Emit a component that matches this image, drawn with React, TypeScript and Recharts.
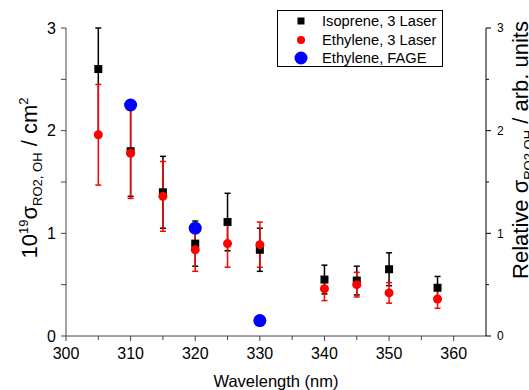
import React from 'react';
import { ScatterChart, Scatter, XAxis, YAxis, ErrorBar } from 'recharts';

const FONT = '"Liberation Sans", Arial, sans-serif';

// wavelengths (nm)
const laserWavelengths = [305, 310, 315, 320, 325, 330, 340, 345, 350, 357.5];
const isopreneValues = [2.6, 1.8, 1.4, 0.9, 1.11, 0.84, 0.55, 0.54, 0.65, 0.47];
// lower / upper error (the 305 nm bar runs off the top of the frame)
const isopreneErrLow = [0.65, 0.44, 0.35, 0.22, 0.28, 0.21, 0.14, 0.14, 0.16, 0.11];
const isopreneErrHigh = [0.4, 0.44, 0.35, 0.22, 0.28, 0.21, 0.14, 0.14, 0.16, 0.11];
const ethyleneValues = [1.96, 1.78, 1.36, 0.84, 0.9, 0.89, 0.46, 0.5, 0.42, 0.36];
const ethyleneErrors = [0.49, 0.44, 0.34, 0.21, 0.23, 0.22, 0.115, 0.12, 0.1, 0.09];
const fageWavelengths = [310, 320, 330];
const fageValues = [2.25, 1.05, 0.15];

const xTicks = [300, 305, 310, 315, 320, 325, 330, 335, 340, 345, 350, 355, 360];
const yTicks = [0, 0.5, 1, 1.5, 2, 2.5, 3];

const isoprene = laserWavelengths.map((x, i) => ({
  x,
  y: isopreneValues[i],
  err: [isopreneErrLow[i], isopreneErrHigh[i]],
}));
const ethylene = laserWavelengths.map((x, i) => ({ x, y: ethyleneValues[i], err: ethyleneErrors[i] }));
const fage = fageWavelengths.map((x, i) => ({ x, y: fageValues[i] }));

const AXIS_GREY = '#444';

function XTick(props: any) {
  const { x, y, payload } = props;
  const major = payload.value % 10 === 0;
  return (
    <g>
      <line x1={x} x2={x} y1={y} y2={y + (major ? 5 : 4)} stroke={AXIS_GREY} />
      {major && (
        <text x={x} y={y + 23} textAnchor="middle" fontSize={16} fill="#000" fontFamily={FONT}>
          {payload.value}
        </text>
      )}
    </g>
  );
}

function LeftTick(props: any) {
  const { x, y, payload } = props;
  const major = Number.isInteger(payload.value);
  return (
    <g>
      <line x1={x} x2={x - 5} y1={y} y2={y} stroke={AXIS_GREY} />
      {major && (
        <text x={x - 10} y={y} dy="0.35em" textAnchor="end" fontSize={16} fill="#000" fontFamily={FONT}>
          {payload.value}
        </text>
      )}
    </g>
  );
}

function RightTick(props: any) {
  const { x, y, payload } = props;
  const major = Number.isInteger(payload.value);
  return (
    <g>
      <line x1={x} x2={x + (major ? 5 : 3)} y1={y} y2={y} stroke="#000" />
      {major && (
        <text x={x + 11} y={y} dy="0.35em" textAnchor="start" fontSize={12} fill="#000" fontFamily={FONT}>
          {payload.value}
        </text>
      )}
    </g>
  );
}

function LeftLabel(props: any) {
  const { viewBox } = props;
  const x = viewBox.x + 17;
  const y = viewBox.y + viewBox.height / 2 - 4;
  return (
    <text x={x} y={y} transform={`rotate(-90 ${x} ${y})`} textAnchor="middle" fontSize={22} fill="#000" fontFamily={FONT}>
      10
      <tspan fontSize={13} dy={-9}>19</tspan>
      <tspan dy={9}>σ</tspan>
      <tspan fontSize={13} dy={5}>RO2, OH</tspan>
      <tspan dy={-5}> / cm</tspan>
      <tspan fontSize={13} dy={-9}>2</tspan>
    </text>
  );
}

function RightLabel(props: any) {
  const { viewBox } = props;
  const x = viewBox.x + 42;
  const y = 150;
  return (
    <text x={x} y={y} transform={`rotate(-90 ${x} ${y})`} textAnchor="middle" fontSize={22} fill="#000" fontFamily={FONT}>
      Relative σ
      <tspan fontSize={13} dy={5}>RO2,OH</tspan>
      <tspan dy={-5}> / arb. units</tspan>
    </text>
  );
}

const Square = (props: any) => {
  const { cx, cy } = props;
  return <rect x={cx - 4} y={cy - 4} width={8} height={8} fill="#000" />;
};
const RedDot = (props: any) => <circle cx={props.cx} cy={props.cy} r={4.5} fill="#ff0000" />;
const BlueDot = (props: any) => <circle cx={props.cx} cy={props.cy} r={6.5} fill="#0000ff" />;
const NoMark = () => <g />;

const legendItems = [
  { label: 'Isoprene, 3 Laser', marker: <rect x={6.5} y={6.5} width={7} height={7} fill="#000" /> },
  { label: 'Ethylene, 3 Laser', marker: <circle cx={10} cy={10} r={4} fill="#ff0000" /> },
  { label: 'Ethylene, FAGE', marker: <circle cx={10} cy={10} r={6.5} fill="#0000ff" /> },
];

function ChartLegend() {
  return (
    <div
      style={{
        position: 'absolute',
        left: 277,
        top: 10,
        width: 166,
        height: 57,
        border: '1px solid #000',
        background: '#fff',
        fontFamily: FONT,
        fontSize: 14.7,
        paddingTop: 0.5,
        boxSizing: 'border-box',
      }}
    >
      {legendItems.map((it) => (
        <div key={it.label} style={{ display: 'flex', alignItems: 'center', height: 18.7 }}>
          <svg width={20} height={20} style={{ marginLeft: 13, marginRight: 11, flexShrink: 0 }}>
            {it.marker}
          </svg>
          <span style={{ lineHeight: '18px', whiteSpace: 'nowrap' }}>{it.label}</span>
        </div>
      ))}
    </div>
  );
}

export default function App() {
  return (
    <div style={{ position: 'absolute', left: 0, top: 0, width: 529, height: 390, background: '#fff' }}>
      <ScatterChart width={529} height={390} margin={{ top: 28, right: 0, bottom: 0, left: 20 }}>
        <XAxis
          type="number"
          dataKey="x"
          domain={[300, 365]}
          ticks={xTicks}
          interval={0}
          height={54}
          stroke={AXIS_GREY}
          tickSize={0}
          tickMargin={0}
          tick={<XTick />}
          tickLine={false}
          label={{ value: 'Wavelength (nm)', position: 'insideBottom', offset: 3, fontSize: 16.5, fill: '#000', fontFamily: FONT }}
        />
        <YAxis
          yAxisId="left"
          type="number"
          dataKey="y"
          domain={[0, 3]}
          allowDataOverflow
          ticks={yTicks}
          interval={0}
          width={46}
          stroke={AXIS_GREY}
          tickSize={0}
          tickMargin={0}
          tick={<LeftTick />}
          tickLine={false}
          label={<LeftLabel />}
        />
        <YAxis
          yAxisId="right"
          orientation="right"
          type="number"
          dataKey="y"
          domain={[0, 3]}
          allowDataOverflow
          ticks={yTicks}
          interval={0}
          width={43}
          stroke="#000"
          tickSize={0}
          tickMargin={0}
          tick={<RightTick />}
          tickLine={false}
          label={<RightLabel />}
        />
        {/* invisible series so the relative (right) axis gets drawn */}
        <Scatter data={fage} yAxisId="right" shape={<NoMark />} legendType="none" isAnimationActive={false} />
        <Scatter data={fage} yAxisId="left" shape={<BlueDot />} isAnimationActive={false} />
        <Scatter data={isoprene} yAxisId="left" shape={<Square />} isAnimationActive={false}>
          <ErrorBar dataKey="err" direction="y" width={3} stroke="#000" strokeWidth={1.5} isAnimationActive={false} />
        </Scatter>
        <Scatter data={ethylene} yAxisId="left" shape={<RedDot />} isAnimationActive={false}>
          <ErrorBar dataKey="err" direction="y" width={3} stroke="#ff0000" strokeWidth={1.5} isAnimationActive={false} />
        </Scatter>
      </ScatterChart>
      <ChartLegend />
    </div>
  );
}
